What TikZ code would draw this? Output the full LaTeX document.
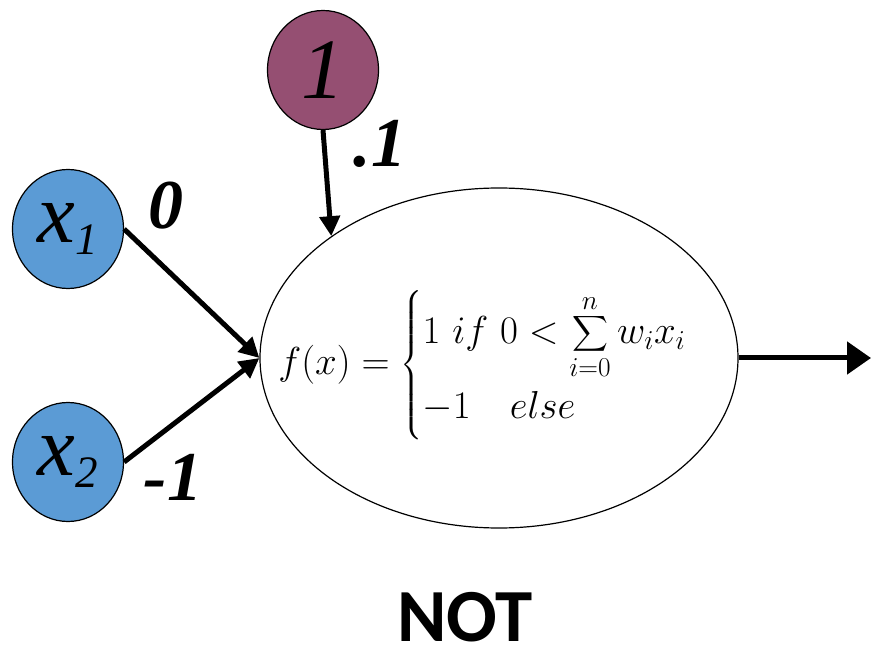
\RequirePackage{fix-cm}
\documentclass[tikz,border=0pt]{standalone}
\usepackage{amsmath}
\usepackage{fontspec}
\newfontfamily\timesfont{Liberation Serif}
\newfontfamily\calibrifont{Carlito}
\usetikzlibrary{arrows.meta,shapes.geometric}
\definecolor{inputblue}{RGB}{91,155,213}
\definecolor{biaspurple}{RGB}{149,79,114}
\begin{document}
\begin{tikzpicture}[x=1pt,y=-1pt,
  unit/.style={ellipse,draw,line width=1.2pt,minimum width=111pt,minimum height=119pt,inner sep=0pt},
  wire/.style={line width=5pt,-{Triangle[length=20pt,width=20pt]}},
  weight/.style={font=\timesfont\bfseries\itshape\fontsize{70}{70}\selectfont}]
  \useasboundingbox (0,0) rectangle (871,647);
  \node[unit,fill=inputblue] (x1) at (68,229) {\timesfont\itshape\fontsize{85}{85}\selectfont x\raisebox{-12pt}{\fontsize{45}{45}\selectfont 1}};
  \node[unit,fill=inputblue] (x2) at (68,462) {\timesfont\itshape\fontsize{85}{85}\selectfont x\raisebox{-12pt}{\fontsize{45}{45}\selectfont 2}};
  \node[unit,fill=biaspurple] (bias) at (323,70) {\timesfont\itshape\fontsize{86}{86}\selectfont 1};
  \node[ellipse,draw,line width=1.2pt,minimum width=478pt,minimum height=340pt] (neuron) at (499,358) {};
  \node (rule) at (502,365) {\fontsize{39}{47}\selectfont$f(x)=\begin{cases}1\ if\ 0<\displaystyle\sum_{i=0}^{n}w_ix_i\\[10pt]-1\quad else\end{cases}$};
  \node[weight] (w1) at (166,206) {0};
  \node[weight] (w0) at (380,144) {.1};
  \node[weight] (w2) at (173,477) {-1};
  \node[font=\calibrifont\bfseries\fontsize{75}{75}\selectfont] (gate) at (465,617) {NOT};
  \coordinate (out) at (871,358);
  \draw[wire] (x1.east) -- (neuron.west);
  \draw[wire] (x2.east) -- (neuron.west);
  \draw[wire] (bias.south) -- (neuron.144);
  \draw[wire,-{Triangle[length=24pt,width=32pt]}] (neuron.east) -- (out);
\end{tikzpicture}
\end{document}
